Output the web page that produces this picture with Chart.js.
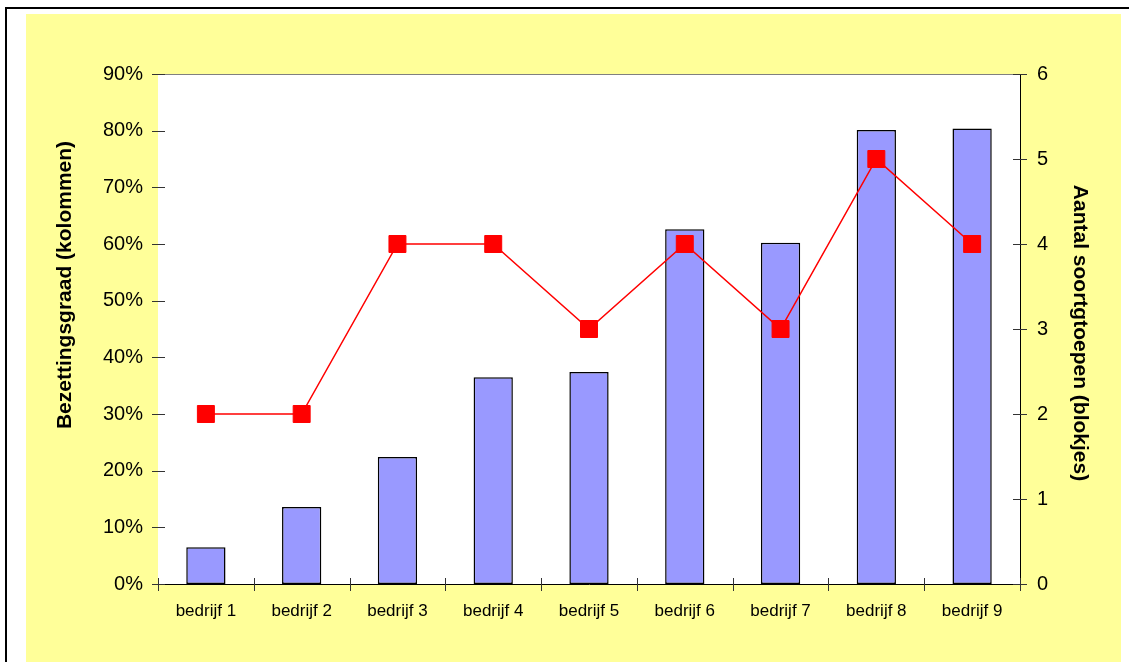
<!DOCTYPE html>
<html>
<head>
<meta charset="utf-8">
<script src="https://cdn.jsdelivr.net/npm/chart.js@4/dist/chart.umd.min.js"></script>
<style>
  html, body { margin: 0; padding: 0; background: #ffffff; overflow: hidden; }
  #frame { position: absolute; left: 5px; top: 7px; width: 1140px; height: 680px; border: 2px solid #000; box-sizing: border-box; }
  #paper { position: absolute; left: 26px; top: 14px; width: 1095px; height: 660px; background: #FFFF99; }
  #wrap { position: absolute; left: 0; top: 0; width: 1129px; height: 662px; }
</style>
</head>
<body>
<div id="frame"></div>
<div id="paper"></div>
<div id="wrap"><canvas id="c"></canvas></div>
<script>
const categories = ['bedrijf 1','bedrijf 2','bedrijf 3','bedrijf 4','bedrijf 5','bedrijf 6','bedrijf 7','bedrijf 8','bedrijf 9'];
const bezetting = [6.5, 13.6, 22.4, 36.5, 37.4, 62.6, 60.2, 80.1, 80.4];   // % (columns)
const soortgroepen = [2, 2, 4, 4, 3, 4, 3, 5, 4];                           // count (squares)
const leftTitle = 'Bezettingsgraad (kolommen)';
const rightTitle = 'Aantal soortgtoepen (blokjes)';

const FONT = '"Liberation Sans", Arial, sans-serif';

const decor = {
  id: 'decor',
  beforeDatasetsDraw(chart) {
    const {ctx, chartArea: a} = chart;
    ctx.save();
    ctx.fillStyle = '#ffffff';
    ctx.fillRect(a.left, a.top, a.right - a.left, a.bottom - a.top);
    ctx.strokeStyle = '#808080';
    ctx.lineWidth = 1;
    ctx.beginPath();
    ctx.moveTo(a.left, Math.round(a.top) + 0.5);
    ctx.lineTo(a.right, Math.round(a.top) + 0.5);
    ctx.stroke();
    ctx.restore();
  },
  afterDatasetsDraw(chart) {
    const {ctx, chartArea: a, scales} = chart;
    ctx.save();
    ctx.lineWidth = 1;
    ctx.strokeStyle = '#333333';
    const y = scales.y;
    y.ticks.forEach(t => {
      const py = Math.round(y.getPixelForValue(t.value)) + 0.5;
      ctx.beginPath(); ctx.moveTo(a.left - 6, py); ctx.lineTo(a.left + 7, py); ctx.stroke();
    });
    const y1 = scales.y1;
    y1.ticks.forEach(t => {
      const py = Math.round(y1.getPixelForValue(t.value)) + 0.5;
      ctx.beginPath(); ctx.moveTo(a.right - 7, py); ctx.lineTo(a.right + 7, py); ctx.stroke();
    });
    const x = scales.x;
    const n = categories.length;
    const w = (a.right - a.left) / n;
    for (let i = 0; i <= n; i++) {
      const px = Math.round(x.getPixelForValue(i) - w / 2) + 0.5;
      ctx.beginPath(); ctx.moveTo(px, a.bottom - 6); ctx.lineTo(px, a.bottom + 7); ctx.stroke();
    }
    ctx.restore();
  },
  afterDraw(chart) {
    const {ctx, chartArea: a} = chart;
    ctx.save();
    ctx.fillStyle = '#000';
    ctx.font = 'bold 21px ' + FONT;
    ctx.textAlign = 'center';
    ctx.textBaseline = 'middle';
    ctx.save();
    ctx.translate(a.left - 93, a.top + 211);
    ctx.rotate(-Math.PI / 2);
    ctx.fillText(leftTitle, 0, 0);
    ctx.restore();
    ctx.save();
    ctx.translate(a.right + 60, a.top + 259);
    ctx.rotate(Math.PI / 2);
    ctx.fillText(rightTitle, 0, 0);
    ctx.restore();
    ctx.restore();
  }
};

new Chart(document.getElementById('c'), {
  data: {
    labels: categories,
    datasets: [
      {
        type: 'line',
        label: 'Aantal soortgroepen',
        data: soortgroepen,
        yAxisID: 'y1',
        borderColor: '#FF0000',
        borderWidth: 1.5,
        backgroundColor: '#FF0000',
        pointStyle: 'rect',
        pointRadius: 12,
        pointHoverRadius: 12,
        pointBackgroundColor: '#FF0000',
        pointBorderColor: '#FF0000',
        pointBorderWidth: 1,
        tension: 0,
        order: 0
      },
      {
        type: 'bar',
        label: 'Bezettingsgraad',
        data: bezetting,
        yAxisID: 'y',
        backgroundColor: '#9999FF',
        borderColor: '#000000',
        borderWidth: 1.5,
        borderSkipped: false,
        barPercentage: 0.41,
        categoryPercentage: 1.0,
        order: 1
      }
    ]
  },
  options: {
    responsive: true,
    maintainAspectRatio: false,
    animation: false,
    layout: { padding: { top: 74, left: 0, right: 0, bottom: 0 } },
    plugins: { legend: { display: false }, tooltip: { enabled: false }, title: { display: false } },
    scales: {
      x: {
        offset: true,
        grid: { display: false, drawTicks: false },
        border: { display: true, color: '#000', width: 1 },
        ticks: { color: '#000', font: { family: FONT, size: 17 }, padding: 17, maxRotation: 0, autoSkip: false },
        afterFit(s) { s.height = 78; }
      },
      y: {
        position: 'left',
        min: 0, max: 90,
        grid: { display: false, drawTicks: false },
        border: { display: true, color: '#333', width: 1 },
        ticks: { stepSize: 10, color: '#000', font: { family: FONT, size: 20 }, padding: 15, callback: v => v + '%' },
        afterFit(s) { s.width = 158; }
      },
      y1: {
        position: 'right',
        min: 0, max: 6,
        grid: { display: false, drawTicks: false },
        border: { display: true, color: '#000', width: 1 },
        ticks: { stepSize: 1, color: '#000', font: { family: FONT, size: 20 }, padding: 17 },
        afterFit(s) { s.width = 109; }
      }
    }
  },
  plugins: [decor]
});
</script>
</body>
</html>
